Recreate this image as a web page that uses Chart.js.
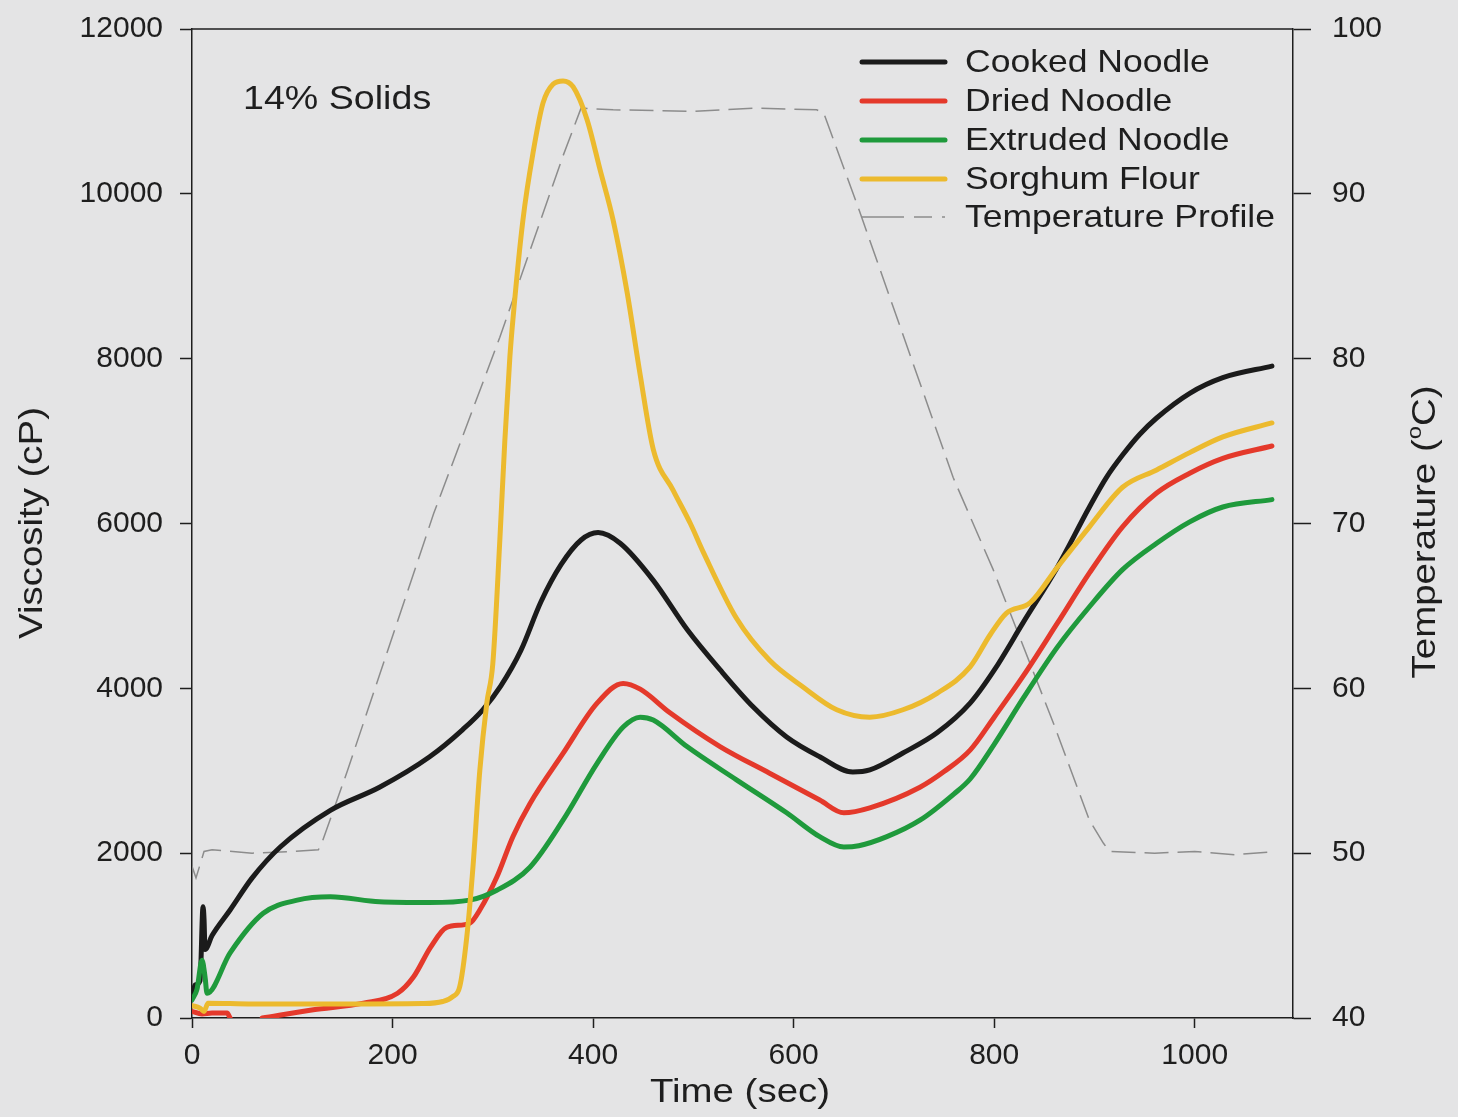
<!DOCTYPE html>
<html>
<head>
<meta charset="utf-8">
<title>14% Solids</title>
<script src="https://cdn.jsdelivr.net/npm/chart.js@4.4.1/dist/chart.umd.min.js"></script>
<style>
  html, body { margin: 0; padding: 0; background: #e4e4e5; }
  canvas { display: block; }
</style>
</head>
<body>
<canvas id="rvaChart" width="1458" height="1117"></canvas>
<script>
// viscosity curves (cP), time in sec
var cookedTime = [0, 3, 8, 11, 12, 13, 20, 38, 60, 88, 138, 187, 237, 270, 290, 308, 328, 348, 368, 388, 405, 427, 460, 494, 527, 560, 593, 626, 659, 676, 709, 743, 776, 800, 829, 863, 895, 912, 928, 945, 962, 995, 1028, 1077];
var cookedVisc = [250, 400, 450, 1350, 1200, 830, 1000, 1310, 1700, 2075, 2520, 2800, 3170, 3500, 3740, 4030, 4460, 5050, 5500, 5800, 5890, 5760, 5310, 4710, 4220, 3770, 3410, 3170, 2985, 3010, 3215, 3460, 3820, 4220, 4800, 5470, 6200, 6560, 6830, 7080, 7280, 7580, 7770, 7910];

var driedTime = [0, 10, 20, 35, 38, 50, 70, 121, 171, 205, 221, 238, 254, 277, 287, 304, 320, 337, 370, 404, 430, 447, 477, 527, 576, 626, 650, 676, 726, 750, 776, 800, 829, 863, 895, 928, 962, 995, 1028, 1077];
var driedVisc = [80, 50, 60, 60, 0, null, 0, 100, 180, 300, 500, 860, 1100, 1150, 1310, 1710, 2200, 2600, 3210, 3820, 4060, 3990, 3700, 3290, 2970, 2645, 2490, 2550, 2800, 2990, 3250, 3650, 4150, 4790, 5400, 5960, 6370, 6610, 6790, 6940];

var extrudedTime = [0, 5, 10, 13, 15, 38, 71, 105, 138, 187, 237, 277, 304, 337, 370, 404, 430, 447, 460, 494, 543, 593, 626, 650, 665, 693, 726, 760, 776, 800, 829, 863, 895, 928, 962, 995, 1028, 1077];
var extrudedVisc = [220, 350, 700, 500, 300, 790, 1270, 1430, 1470, 1410, 1400, 1430, 1550, 1830, 2400, 3090, 3530, 3650, 3615, 3290, 2890, 2490, 2200, 2075, 2090, 2200, 2400, 2720, 2900, 3320, 3880, 4500, 4990, 5440, 5760, 6020, 6200, 6290];

var sorghumTime = [0, 8, 12, 16, 60, 150, 230, 250, 260, 267, 274, 280, 287, 294, 300, 307, 312, 317, 320, 330, 340, 350, 360, 370, 380, 394, 407, 420, 434, 447, 460, 480, 497, 510, 543, 576, 609, 643, 676, 709, 743, 776, 796, 812, 836, 863, 895, 928, 962, 995, 1028, 1077];
var sorghumVisc = [150, 120, 80, 180, 170, 170, 175, 200, 260, 380, 980, 1800, 3000, 3820, 4300, 5800, 7010, 8020, 8470, 9680, 10490, 11100, 11330, 11370, 11300, 10900, 10290, 9680, 8800, 7800, 6900, 6400, 6000, 5650, 4850, 4340, 4020, 3740, 3650, 3740, 3940, 4260, 4650, 4910, 5040, 5470, 5960, 6440, 6650, 6860, 7050, 7220];

// temperature profile (oC), right axis
var tempTime = [0, 4, 12, 20, 60, 100, 126, 130, 155, 241, 307, 370, 388, 420, 500, 560, 623, 630, 666, 759, 799, 859, 895, 909, 915, 960, 1000, 1040, 1080];
var tempValue = [49.2, 48.5, 50.1, 50.2, 50.0, 50.1, 50.2, 50.7, 55, 70.6, 81.3, 92.3, 95.2, 95.1, 95.0, 95.2, 95.1, 94.9, 88.9, 72.8, 67.2, 57.9, 52, 50.6, 50.1, 50.0, 50.1, 49.9, 50.1];

var seriesNames = ['Cooked Noodle', 'Dried Noodle', 'Extruded Noodle', 'Sorghum Flour', 'Temperature Profile'];
var seriesColors = ['#1b1b1b', '#e4392b', '#1f9a3c', '#ecba2e', '#8c8c8c'];

var xTicks = [0, 200, 400, 600, 800, 1000];
var viscTicks = [0, 2000, 4000, 6000, 8000, 10000, 12000];
var tempTicks = [40, 50, 60, 70, 80, 90, 100];

function toPoints(ts, vs) {
  return ts.map(function (t, i) { return { x: t, y: vs[i] }; });
}

var FONT = '"Liberation Sans", Arial, Helvetica, sans-serif';
var INK = '#1e1e1e';

function stretchText(ctx, text, x, y, sx, align, rot) {
  ctx.save();
  ctx.translate(x, y);
  if (rot) ctx.rotate(rot);
  ctx.scale(sx, 1);
  ctx.textAlign = align;
  ctx.fillText(text, 0, 0);
  ctx.restore();
}

var decorPlugin = {
  id: 'decor',
  beforeDraw: function (chart) {
    var ctx = chart.ctx;
    ctx.save();
    ctx.fillStyle = '#e4e4e5';
    ctx.fillRect(0, 0, chart.width, chart.height);
    ctx.restore();
  },
  afterDraw: function (chart) {
    var ctx = chart.ctx;
    var area = chart.chartArea;
    ctx.save();
    // top frame line
    ctx.strokeStyle = INK;
    ctx.lineWidth = 1.5;
    ctx.beginPath();
    ctx.moveTo(area.left, area.top);
    ctx.lineTo(area.right, area.top);
    ctx.stroke();

    ctx.fillStyle = INK;
    ctx.textBaseline = 'alphabetic';
    ctx.font = '33px ' + FONT;
    stretchText(ctx, '14% Solids', 243, 109, 1.14, 'left');

    // legend
    var rowY = [62, 101, 140, 179, 217];
    for (var i = 0; i < seriesNames.length; i++) {
      ctx.strokeStyle = seriesColors[i];
      if (i < 4) {
        ctx.lineWidth = 5;
        ctx.lineCap = 'round';
        ctx.setLineDash([]);
      } else {
        ctx.lineWidth = 1.5;
        ctx.lineCap = 'butt';
        ctx.setLineDash([42, 10, 18, 10]);
      }
      ctx.beginPath();
      ctx.moveTo(862, rowY[i]);
      ctx.lineTo(945, rowY[i]);
      ctx.stroke();
      ctx.setLineDash([]);
      ctx.font = '32px ' + FONT;
      ctx.textBaseline = 'middle';
      stretchText(ctx, seriesNames[i], 965, rowY[i] + 1, 1.11, 'left');
    }

    // axis titles
    ctx.font = '34px ' + FONT;
    ctx.textBaseline = 'middle';
    stretchText(ctx, 'Time (sec)', 740, 1093, 1.13, 'center');
    stretchText(ctx, 'Viscosity (cP)', 33, 523, 1.13, 'center', -Math.PI / 2);

    // right title with superscript o
    ctx.save();
    ctx.translate(1426, 532);
    ctx.rotate(-Math.PI / 2);
    ctx.scale(1.13, 1);
    var a = 'Temperature (', c = 'C)';
    ctx.font = '34px ' + FONT;
    var wa = ctx.measureText(a).width, wc = ctx.measureText(c).width;
    ctx.font = '21px ' + FONT;
    var wo = ctx.measureText('o').width;
    var start = -(wa + wo + wc) / 2;
    ctx.textAlign = 'left';
    ctx.font = '34px ' + FONT;
    ctx.fillText(a, start, 0);
    ctx.font = '21px ' + FONT;
    ctx.fillText('o', start + wa, -11);
    ctx.font = '34px ' + FONT;
    ctx.fillText(c, start + wa + wo, 0);
    ctx.restore();

    ctx.restore();
  }
};

document.addEventListener('DOMContentLoaded', function () {
  var ctx = document.getElementById('rvaChart').getContext('2d');

  var curves = [
    [cookedTime, cookedVisc],
    [driedTime, driedVisc],
    [extrudedTime, extrudedVisc],
    [sorghumTime, sorghumVisc]
  ];
  var datasets = curves.map(function (c, i) {
    return {
      label: seriesNames[i],
      data: toPoints(c[0], c[1]),
      yAxisID: 'y',
      borderColor: seriesColors[i],
      borderWidth: 5,
      borderCapStyle: 'round',
      borderJoinStyle: 'round',
      pointRadius: 0,
      cubicInterpolationMode: 'monotone',
      spanGaps: false,
      order: 4 - i
    };
  });
  datasets.push({
    label: seriesNames[4],
    data: toPoints(tempTime, tempValue),
    yAxisID: 'y1',
    borderColor: seriesColors[4],
    borderWidth: 1.5,
    borderDash: [24, 9],
    pointRadius: 0,
    tension: 0,
    order: 10
  });

  var plainLabel = function (v) { return String(v); };
  // small lineHeight keeps the top label from pushing the plot area down
  var sideTick = {
    color: INK,
    font: { family: FONT, size: 30, lineHeight: 0.4 },
    callback: plainLabel
  };

  new Chart(ctx, {
    type: 'line',
    data: { datasets: datasets },
    plugins: [decorPlugin],
    options: {
      responsive: false,
      animation: false,
      layout: { padding: { top: 29, left: 0, right: 0, bottom: 0 } },
      plugins: { legend: { display: false }, tooltip: { enabled: false } },
      scales: {
        x: {
          type: 'linear',
          min: 0,
          max: 1098,
          afterFit: function (s) { s.height = 99; },
          afterBuildTicks: function (s) { s.ticks = xTicks.map(function (v) { return { value: v }; }); },
          ticks: { padding: 10, maxRotation: 0, color: INK, font: { family: FONT, size: 30 }, callback: plainLabel },
          grid: { drawOnChartArea: false, tickLength: 10, color: INK, tickWidth: 1.5 },
          border: { color: INK, width: 1.5 }
        },
        y: {
          position: 'left',
          min: 0,
          max: 12000,
          afterFit: function (s) { s.width = 192; },
          afterBuildTicks: function (s) { s.ticks = viscTicks.map(function (v) { return { value: v }; }); },
          ticks: Object.assign({ padding: 17 }, sideTick),
          grid: { drawOnChartArea: false, tickLength: 12, color: INK, tickWidth: 1.5 },
          border: { color: INK, width: 1.5 }
        },
        y1: {
          position: 'right',
          min: 40,
          max: 100,
          afterFit: function (s) { s.width = 165; },
          afterBuildTicks: function (s) { s.ticks = tempTicks.map(function (v) { return { value: v }; }); },
          ticks: Object.assign({ padding: 21 }, sideTick),
          grid: { drawOnChartArea: false, tickLength: 18, color: INK, tickWidth: 1.5 },
          border: { color: INK, width: 1.5 }
        }
      }
    }
  });
});
</script>
</body>
</html>
